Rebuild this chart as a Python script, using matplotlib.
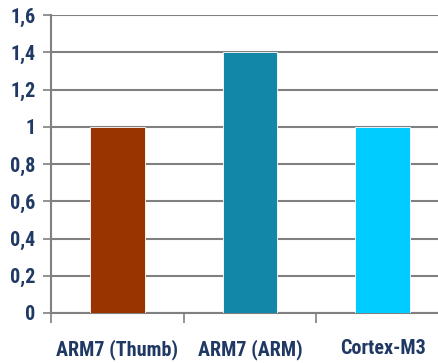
import matplotlib
matplotlib.use("Agg")
import matplotlib.pyplot as plt
from matplotlib.ticker import FuncFormatter

categories = ["ARM7 (Thumb)", "ARM7 (ARM)", "Cortex-M3"]
values = [1.0, 1.4, 1.0]
colors = ["#993300", "#1287A8", "#00CCFF"]
yticks = [0, 0.2, 0.4, 0.6, 0.8, 1.0, 1.2, 1.4, 1.6]

plt.rcParams['font.family'] = ['Roboto Condensed', 'Archivo Narrow', 'Liberation Sans', 'DejaVu Sans']

W, H = 439, 363
fig = plt.figure(figsize=(W/100, H/100), dpi=100)
ax = fig.add_axes([51/W, 1-313/H, 398/W, 298/H])

x = list(range(len(categories)))
ax.bar(x, values, width=0.41, color=colors, edgecolor="white", linewidth=0.6, zorder=3)

ax.set_xlim(-0.5, len(categories)-0.5)
ax.set_ylim(0, 1.6)
ax.set_yticks(yticks)
ax.yaxis.set_major_formatter(FuncFormatter(lambda v, p: ("%g" % round(v, 1)).replace(".", ",")))
ax.grid(axis="y", color="#808080", linewidth=1.5, zorder=0)

ax.set_xticks(x)
ax.set_xticklabels(categories)
ax.set_xticks([-0.5, 0.5, 1.5, 2.5], minor=True)
ax.tick_params(axis="x", which="major", length=0, pad=19)
ax.tick_params(axis="x", which="minor", length=7, width=1.2, color="#808080")
ax.tick_params(axis="y", length=6, width=1.2, color="#808080", pad=5)

for lab in ax.get_xticklabels() + ax.get_yticklabels():
    lab.set_fontsize(14.5)
    lab.set_fontweight("bold")
    lab.set_color("#1F3864")

for s in ["top", "right"]:
    ax.spines[s].set_visible(False)
ax.spines["left"].set_color("#808080")
ax.spines["left"].set_linewidth(1.5)
ax.spines["bottom"].set_color("#808080")
ax.spines["bottom"].set_linewidth(1.5)

fig.savefig("out.png", dpi=100)
